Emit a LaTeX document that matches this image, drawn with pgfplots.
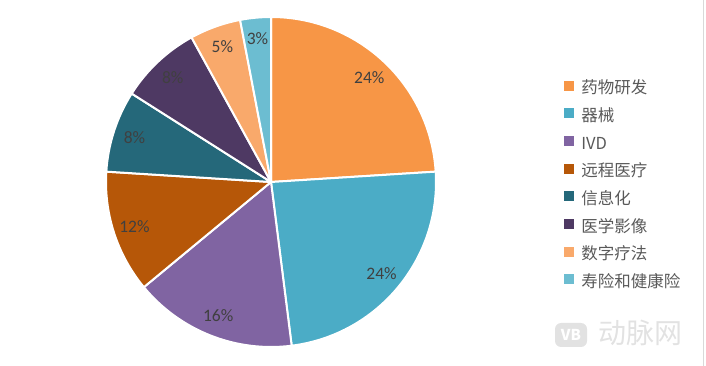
\documentclass[border=0pt]{standalone}
\usepackage{pgfplots}
\pgfplotsset{compat=1.18}
\usepackage{fontspec}
\setmainfont{Noto Sans CJK SC}
\newfontfamily\pctfont{Carlito}
\definecolor{c1}{HTML}{F79646}
\definecolor{c2}{HTML}{4BACC6}
\definecolor{c3}{HTML}{8064A2}
\definecolor{c4}{HTML}{B65708}
\definecolor{c5}{HTML}{25687A}
\definecolor{c6}{HTML}{4E3963}
\definecolor{c7}{HTML}{F9A96B}
\definecolor{c8}{HTML}{6CBDD1}
\definecolor{txt}{HTML}{404040}
\definecolor{legtxt}{HTML}{595959}
\definecolor{wm}{HTML}{E2E2E2}
\definecolor{frame}{HTML}{D9D9D9}
\begin{document}
\begin{tikzpicture}
\path[use as bounding box] (0,0) rectangle (706bp,366bp);
% shares (percent), clockwise from 12 o'clock
\gdef\cum{0}
\foreach \v [count=\i] in {24,24,16,12,8,8,5,3}{%
  \pgfmathsetmacro\a{90-3.6*\cum}%
  \pgfmathsetmacro\b{90-3.6*(\cum+\v)}%
  \pgfmathsetmacro\m{(\a+\b)/2}%
  \expandafter\xdef\csname sa\i\endcsname{\a}%
  \expandafter\xdef\csname sb\i\endcsname{\b}%
  \expandafter\xdef\csname sm\i\endcsname{\m}%
  \expandafter\xdef\csname sv\i\endcsname{\v}%
  \pgfmathsetmacro\n{\cum+\v}%
  \xdef\cum{\n}%
}
\begin{axis}[
  hide axis, x=165bp, y=165bp,
  xmin=-1, xmax=1, ymin=-1, ymax=1,
  at={(271bp,184bp)}, anchor=center, clip=false,
  legend style={draw=none, fill=none, inner sep=0pt, outer sep=0pt,
    at={(1.3879,0.8075)}, anchor=north west,
    font=\fontsize{16.5bp}{18bp}\selectfont, text=legtxt,
    row sep=12.0bp, column sep=0pt,
    nodes={inner sep=0pt, outer sep=0pt, text height=10.5bp, text depth=2.5bp}},
  legend cell align=left,
]
\pgfplotsinvokeforeach{1,...,8}{%
  \filldraw[fill=c#1, draw=white, line width=2bp, line join=round]
    (axis cs:0,0) -- (axis cs:{cos(\csname sa#1\endcsname)},{sin(\csname sa#1\endcsname)})
    arc[start angle=\csname sa#1\endcsname, end angle=\csname sb#1\endcsname, radius=165bp] -- cycle;
}
\pgfplotsinvokeforeach{1,...,8}{%
  \node[font=\pctfont\fontsize{17.5bp}{19bp}\selectfont, text=txt]
    at (axis cs:{0.87*cos(\csname sm#1\endcsname)},{0.87*sin(\csname sm#1\endcsname)})
    {\csname sv#1\endcsname\%};
}
\addlegendimage{legend image code/.code={\fill[c1] (0bp,0bp) rectangle (9bp,9bp);}}
\addlegendentry{\hspace{8bp}药物研发}
\addlegendimage{legend image code/.code={\fill[c2] (0bp,0bp) rectangle (9bp,9bp);}}
\addlegendentry{\hspace{8bp}器械}
\addlegendimage{legend image code/.code={\fill[c3] (0bp,0bp) rectangle (9bp,9bp);}}
\addlegendentry{\hspace{8bp}IVD}
\addlegendimage{legend image code/.code={\fill[c4] (0bp,0bp) rectangle (9bp,9bp);}}
\addlegendentry{\hspace{8bp}远程医疗}
\addlegendimage{legend image code/.code={\fill[c5] (0bp,0bp) rectangle (9bp,9bp);}}
\addlegendentry{\hspace{8bp}信息化}
\addlegendimage{legend image code/.code={\fill[c6] (0bp,0bp) rectangle (9bp,9bp);}}
\addlegendentry{\hspace{8bp}医学影像}
\addlegendimage{legend image code/.code={\fill[c7] (0bp,0bp) rectangle (9bp,9bp);}}
\addlegendentry{\hspace{8bp}数字疗法}
\addlegendimage{legend image code/.code={\fill[c8] (0bp,0bp) rectangle (9bp,9bp);}}
\addlegendentry{\hspace{8bp}寿险和健康险}
\end{axis}
\draw[frame, line width=0.75bp] (703bp,0bp) -- (703bp,366bp);
\fill[wm, rounded corners=6bp] (555bp,19bp) rectangle (587bp,43bp);
\node[text=white, font=\bfseries\fontsize{15bp}{15bp}\selectfont] at (571bp,31bp) {VB};
\node[text=wm, font=\fontsize{28bp}{28bp}\selectfont, anchor=west, inner sep=0pt] at (598bp,33bp) {动脉网};
\end{tikzpicture}
\end{document}
